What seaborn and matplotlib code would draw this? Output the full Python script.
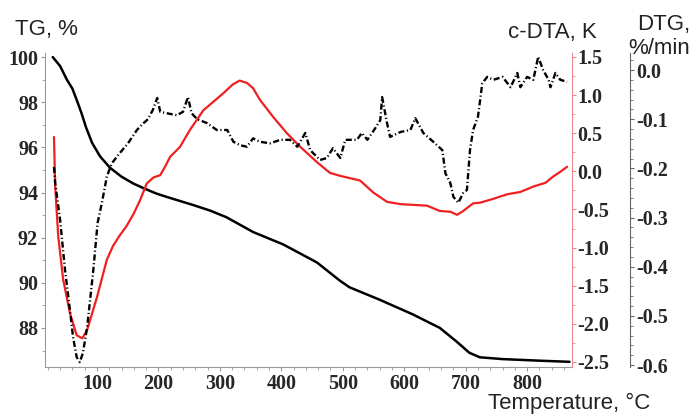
import matplotlib
matplotlib.use("Agg")
import matplotlib.pyplot as plt
from matplotlib.ticker import MultipleLocator, FormatStrFormatter
import seaborn as sns

# TG, % (left axis)
tg_temp = [28, 40, 51, 60, 67, 75, 82, 92, 105, 121, 140, 159, 175, 197, 214, 256, 284,
           311, 354, 403, 458, 495, 511, 560, 614, 658, 685, 706, 723, 760, 820, 869]
tg_val = [100.0, 99.6, 99.0, 98.6, 98.1, 97.5, 96.9, 96.2, 95.6, 95.1, 94.7, 94.4, 94.2,
          93.95, 93.8, 93.45, 93.2, 92.9, 92.25, 91.7, 90.9, 90.1, 89.8, 89.25, 88.6,
          88.0, 87.4, 86.9, 86.7, 86.62, 86.55, 86.5]

# c-DTA, K (red axis)
dta_temp = [30, 32, 37, 45, 56, 67, 76, 84, 100, 116, 126, 137, 148, 160, 170, 181, 192,
            203, 212, 219, 235, 251, 273, 305, 321, 332, 344, 354, 365, 387, 409, 431,
            458, 479, 496, 512, 528, 550, 572, 594, 615, 637, 658, 675, 686, 696, 712,
            724, 745, 768, 789, 810, 830, 842, 855, 865]
dta_val = [0.45, -0.2, -0.86, -1.42, -1.86, -2.15, -2.19, -2.08, -1.65, -1.16, -0.98,
           -0.84, -0.72, -0.55, -0.38, -0.16, -0.08, -0.05, 0.08, 0.19, 0.32, 0.54, 0.8,
           1.02, 1.14, 1.19, 1.16, 1.09, 0.94, 0.71, 0.5, 0.32, 0.12, -0.02, -0.06, -0.09,
           -0.12, -0.28, -0.4, -0.43, -0.44, -0.45, -0.52, -0.53, -0.57, -0.52, -0.42,
           -0.41, -0.36, -0.3, -0.27, -0.2, -0.15, -0.07, 0.0, 0.06]

# DTG, %/min (outer axis)
dtg_temp = [30, 32, 40, 48, 56, 61, 67, 72, 77, 84, 94, 101, 108, 116, 124, 137, 150, 165,
            174, 183, 191, 198, 203, 214, 230, 240, 248, 254, 263, 279, 295, 312, 322,
            333, 344, 354, 365, 382, 398, 414, 426, 439, 447, 463, 474, 484, 496, 504,
            523, 531, 540, 553, 561, 564, 572, 577, 594, 610, 618, 631, 650, 662, 667,
            675, 680, 688, 696, 702, 707, 712, 720, 727, 735, 745, 760, 773, 784, 789,
            800, 810, 818, 826, 835, 838, 846, 854, 865]
dtg_val = [-0.197, -0.23, -0.305, -0.407, -0.488, -0.543, -0.584, -0.594, -0.576, -0.523,
           -0.407, -0.311, -0.27, -0.217, -0.19, -0.169, -0.15, -0.122, -0.11, -0.10,
           -0.081, -0.057, -0.085, -0.088, -0.092, -0.085, -0.055, -0.088, -0.10, -0.108,
           -0.122, -0.122, -0.146, -0.153, -0.156, -0.139, -0.146, -0.149, -0.142, -0.142,
           -0.156, -0.128, -0.163, -0.183, -0.179, -0.159, -0.179, -0.142, -0.142, -0.128,
           -0.142, -0.118, -0.102, -0.055, -0.108, -0.136, -0.126, -0.122, -0.098, -0.128,
           -0.149, -0.163, -0.21, -0.23, -0.258, -0.27, -0.25, -0.244, -0.163, -0.122,
           -0.095, -0.027, -0.014, -0.02, -0.014, -0.035, -0.006, -0.035, -0.014, -0.02,
           0.027, 0.0, -0.02, -0.035, -0.006, -0.02, -0.024]

sns.set_style("ticks")
plt.rcParams['font.family'] = ['Liberation Serif', 'DejaVu Serif']
plt.rcParams['font.weight'] = 'bold'
plt.rcParams['axes.unicode_minus'] = False

fig = plt.figure(figsize=(6.93, 4.15), dpi=100)
ax = fig.add_axes([45 / 693, 48 / 415, 527 / 693, 314 / 415])
ax2 = ax.twinx()
ax3 = ax.twinx()
ax3.spines['right'].set_position(('outward', 42))

sns.lineplot(x=tg_temp, y=tg_val, ax=ax, color='black', linewidth=1.8, sort=False)
sns.lineplot(x=dta_temp, y=dta_val, ax=ax2, color='#f02020', linewidth=1.6, sort=False)
sns.lineplot(x=dtg_temp, y=dtg_val, ax=ax3, color='black', linewidth=1.7, sort=False,
             linestyle=(0, (2.6, 1.1, 0.5, 1.1)))

ax.set_xlim(15.4, 873)
ax.set_ylim(86.27, 100.18)
ax2.set_ylim(-2.566, 1.552)
ax3.set_ylim(-0.604, 0.0346)

for a in (ax, ax2, ax3):
    a.set_xlabel('')
    a.set_ylabel('')
    a.spines['top'].set_visible(False)

ax.spines['right'].set_visible(False)
ax.spines['left'].set_color('#999999')
ax.spines['bottom'].set_color('#999999')
for a in (ax2, ax3):
    a.spines['left'].set_visible(False)
    a.spines['bottom'].set_visible(False)
ax2.spines['right'].set_color('#f08a8a')
ax3.spines['right'].set_color('#666666')

ax.set_xticks(range(100, 900, 100))
ax.xaxis.set_minor_locator(MultipleLocator(20))
ax.yaxis.set_major_locator(MultipleLocator(2))
ax.yaxis.set_minor_locator(MultipleLocator(1))
ax2.yaxis.set_major_locator(MultipleLocator(0.5))
ax2.yaxis.set_minor_locator(MultipleLocator(0.25))
ax2.yaxis.set_major_formatter(FormatStrFormatter('%.1f'))
ax3.yaxis.set_major_locator(MultipleLocator(0.1))
ax3.yaxis.set_minor_locator(MultipleLocator(0.02))
ax3.yaxis.set_major_formatter(FormatStrFormatter('%.1f'))

ax.tick_params(axis='both', which='major', length=3, color='#999999', labelsize=14.5, pad=2)
ax.tick_params(axis='both', which='minor', length=2, color='#999999')
ax2.tick_params(axis='y', which='major', length=3, color='#f08a8a', labelsize=14.5, pad=1)
ax2.tick_params(axis='y', which='minor', length=2, color='#f08a8a')
ax3.tick_params(axis='y', which='major', length=3, color='#666666', labelsize=14.5, pad=1)
ax3.tick_params(axis='y', which='minor', length=2, color='#666666')

title_font = dict(family='Liberation Sans', fontweight='normal', fontsize=16, color='#222222')
fig.text(15 / 693, 1 - 35 / 415, 'TG, %', ha='left', va='baseline', **title_font)
fig.text(597 / 693, 1 - 38 / 415, 'c-DTA, K', ha='right', va='baseline', **title_font)
fig.text(637 / 693, 1 - 30 / 415, 'DTG,', ha='left', va='baseline', **title_font)
fig.text(628 / 693, 1 - 54 / 415, '%/min', ha='left', va='baseline', **title_font)
fig.text(488 / 693, 1 - 409 / 415, 'Temperature, °C', ha='left', va='baseline', **title_font)

fig.savefig('out.png', dpi=100)
